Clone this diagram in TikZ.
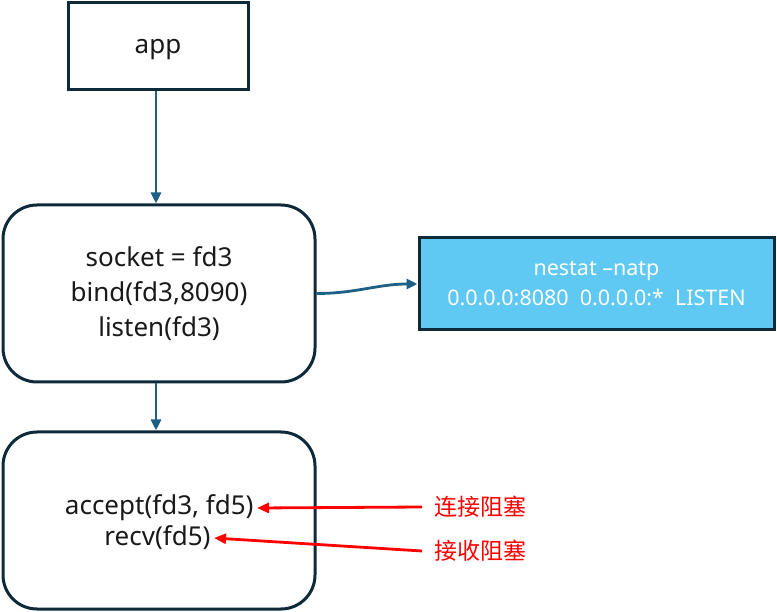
\documentclass[tikz,border=0pt]{standalone}
\usepackage{fontspec}
\setmainfont{Noto Sans}
\newfontfamily\cjk{Noto Sans CJK SC}
\usetikzlibrary{arrows.meta}
\definecolor{boxline}{HTML}{0D2A3A}
\definecolor{flow}{HTML}{1D5F85}
\definecolor{netblue}{HTML}{5FC9F3}
\tikzset{
  plainbox/.style={draw=boxline, line width=3pt, inner sep=0pt},
  roundbox/.style={plainbox, rounded corners=34pt, minimum width=312pt, minimum height=177pt},
  flowarrow/.style={draw=flow, line width=2.8pt, -{Triangle[length=11pt,width=10pt]}},
  redarrow/.style={draw=red, line width=2.8pt, -{Triangle[length=12pt,width=10pt]}},
  label/.style={font=\fontsize{26}{35}\selectfont, text=black!90, align=center}
}
\begin{document}
\begin{tikzpicture}[x=1pt, y=-1pt]
\useasboundingbox (0,0) rectangle (777,612);

\node[plainbox, minimum width=180pt, minimum height=87pt, label,
      text height=21pt, text depth=6pt] (app) at (158,46.5) {app};
\node[roundbox, label] (sock) at (159,293.5) {socket = fd3\\bind(fd3,8090)\\listen(fd3)};
\node[roundbox] (conn) at (159,520.5) {};
\node[plainbox, fill=netblue, minimum width=355pt, minimum height=92pt,
      text=white, align=center, font=\fontsize{21.5}{30}\selectfont] (net) at (596.5,284)
      {nestat --natp\\0.0.0.0:8080\ \ 0.0.0.0:*\ \ LISTEN};

\node[label, anchor=east] (acc) at (257,508) {accept(fd3, fd5)};
\node[label, anchor=east] (recv) at (214,538) {recv(fd5)};
\node[font=\cjk\fontsize{23}{26}\selectfont, text=red, anchor=west] (blk1) at (431,507) {连接阻塞};
\node[font=\cjk\fontsize{23}{26}\selectfont, text=red, anchor=west] (blk2) at (431,551) {接收阻塞};

\draw[flowarrow] (app.south -| 156,0) -- (sock.north -| 156,0);
\draw[flowarrow] (sock.south -| 156,0) -- (conn.north -| 156,0);
\draw[flowarrow] (sock.east) to[out=0, in=180] (net.west);

\draw[redarrow] (blk1.west) ++(-9,0) coordinate (r1) -- (acc.east);
\draw[redarrow] (blk2.west) ++(-9,0) coordinate (r2) -- (recv.east);
\end{tikzpicture}
\end{document}
